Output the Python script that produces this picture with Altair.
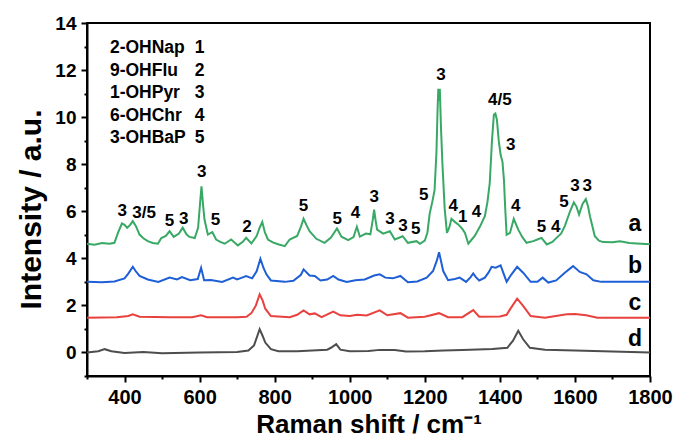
import altair as alt
import pandas as pd

# ---- data ----
series_names = ["a", "b", "c", "d"]
series_colors = ["#38A865", "#1E5FD6", "#E8413E", "#4D4D4D"]

a_pts = [(300,4.62),(320,4.58),(340,4.65),(360,4.62),(373,4.66),(383,5.1),(393,5.48),(400,5.42),(407,5.3),
         (415,5.42),(422,5.58),(430,5.38),(440,5.01),(450,4.85),(462,4.73),(475,4.65),(489,4.62),(498,4.86),
         (510,4.95),(520,5.15),(531,4.91),(545,5.05),(555,5.3),(565,5.02),(573,4.91),(587,4.86),(596,5.3),
         (601,6.3),(605,7.06),(609,6.3),(613,5.65),(622,5.01),(634,5.11),(644,4.8),(655,4.7),(667,4.62),
         (684,4.8),(702,4.55),(715,4.7),(724,4.87),(738,4.63),(752,4.95),(760,5.3),(767,5.54),(774,5.1),
         (782,4.8),(795,4.68),(809,4.6),(827,4.52),(840,4.8),(860,4.95),(870,5.35),(877,5.68),(885,5.4),
         (893,5.15),(911,4.83),(933,4.66),(950,4.88),(966,5.27),(978,4.92),(996,4.77),(1010,4.9),(1019,5.34),
         (1027,4.92),(1043,5.05),(1055,5.02),(1061,5.6),(1065,6.07),(1069,5.6),(1073,5.22),(1089,5.05),
         (1107,5.15),(1120,4.8),(1141,4.94),(1155,4.66),(1178,4.73),(1187,4.62),(1200,4.75),(1207,5.1),
         (1213,5.9),(1220,6.4),(1226,6.9),(1231,8.5),(1234,10.3),(1236,11.2),(1238,10.7),(1240,11.2),
         (1243,9.6),(1247,8.0),(1253,6.1),(1259,5.08),(1265,5.3),(1271,5.68),(1280,5.55),(1289,5.44),
         (1300,5.25),(1307,5.08),(1316,4.62),(1325,4.8),(1333,4.95),(1347,5.35),(1360,5.79),(1367,6.4),
         (1373,7.2),(1379,9.0),(1384,10.1),(1388,10.15),(1392,9.9),(1397,9.0),(1402,8.4),(1407,8.1),
         (1411,7.3),(1414,6.2),(1418,5.0),(1427,5.08),(1437,5.68),(1449,5.22),(1460,4.9),(1471,4.66),
         (1489,4.73),(1500,4.8),(1511,4.87),(1525,4.59),(1540,4.7),(1551,4.87),(1563,5.05),(1573,5.37),
         (1587,6.0),(1597,6.38),(1604,6.2),(1611,5.86),(1620,6.3),(1629,6.52),(1635,6.2),(1640,5.79),
         (1653,4.94),(1664,4.75),(1675,4.69),(1700,4.68),(1720,4.73),(1745,4.65),(1765,4.63),(1800,4.6)]

b_pts = [(300,3.0),(340,2.98),(373,3.02),(400,3.15),(410,3.35),(422,3.64),(430,3.45),(440,3.25),(462,3.1),
         (490,3.0),(520,3.18),(540,3.1),(553,3.2),(575,3.07),(595,3.12),(604,3.6),(612,3.07),(630,3.08),
         (660,3.0),(689,3.18),(700,3.1),(713,3.18),(724,3.25),(740,3.15),(752,3.45),(762,3.98),(770,3.6),
         (778,3.32),(790,3.06),(827,3.0),(850,3.05),(870,3.3),(877,3.53),(893,3.27),(907,3.25),(922,3.06),
         (940,3.1),(956,3.25),(970,3.1),(992,3.0),(1015,3.07),(1040,3.1),(1065,3.27),(1080,3.32),(1095,3.18),
         (1115,3.15),(1135,3.25),(1155,2.98),(1180,3.02),(1205,3.18),(1222,3.46),(1232,3.9),(1238,4.26),
         (1243,3.9),(1249,3.46),(1262,3.07),(1280,3.12),(1293,3.18),(1310,3.0),(1322,3.2),(1329,3.36),
         (1336,3.2),(1345,3.06),(1360,3.18),(1370,3.4),(1378,3.64),(1389,3.6),(1402,3.7),(1409,3.39),
         (1418,3.0),(1430,3.3),(1446,3.64),(1462,3.39),(1482,3.0),(1500,3.0),(1514,3.18),(1529,2.97),
         (1550,3.06),(1573,3.39),(1595,3.67),(1613,3.42),(1631,3.32),(1649,3.07),(1670,3.0),(1720,3.0),
         (1800,3.0)]

c_pts = [(300,1.48),(380,1.5),(410,1.55),(422,1.62),(440,1.52),(520,1.5),(580,1.5),(604,1.58),(620,1.5),
         (700,1.5),(725,1.52),(738,1.67),(750,2.0),(760,2.47),(768,2.2),(775,1.86),(790,1.55),(840,1.5),
         (860,1.6),(877,1.79),(893,1.62),(907,1.66),(925,1.5),(956,1.74),(975,1.58),(1000,1.55),(1020,1.6),
         (1045,1.57),(1080,1.79),(1100,1.58),(1135,1.67),(1155,1.48),(1200,1.52),(1238,1.67),(1262,1.5),
         (1300,1.5),(1329,1.8),(1345,1.52),(1400,1.53),(1418,1.6),(1427,1.83),(1446,2.29),(1462,1.98),
         (1482,1.55),(1520,1.48),(1578,1.62),(1600,1.63),(1630,1.58),(1660,1.48),(1800,1.48)]

d_pts = [(300,0.0),(330,0.05),(347,0.14),(365,0.05),(400,-0.02),(450,0.02),(500,-0.03),(600,0.0),(700,0.02),
         (730,0.08),(745,0.3),(760,0.99),(768,0.7),(775,0.42),(790,0.14),(810,0.05),(860,0.05),(900,0.08),
         (940,0.12),(950,0.2),(964,0.35),(975,0.12),(1000,0.05),(1050,0.06),(1080,0.11),(1120,0.1),
         (1150,0.04),(1200,0.05),(1250,0.08),(1300,0.1),(1380,0.15),(1420,0.2),(1435,0.5),(1449,0.92),
         (1462,0.56),(1480,0.2),(1520,0.12),(1600,0.08),(1700,0.04),(1800,0.0)]

peak_labels = [(394,6.0,"3"),(452,5.93,"3/5"),(520,5.58,"5"),(558,5.68,"3"),(606,7.65,"3"),(642,5.62,"5"),
               (726,5.34,"2"),(877,6.21,"5"),(967,5.68,"5"),(1015,5.93,"4"),(1065,6.6,"3"),(1107,5.68,"3"),
               (1142,5.37,"3"),(1176,5.25,"5"),(1197,6.71,"5"),(1243,11.79,"3"),(1276,6.21,"4"),
               (1301,5.74,"1"),(1338,5.96,"4"),(1400,10.73,"4/5"),(1429,8.83,"3"),(1442,6.21,"4"),
               (1511,5.32,"5"),(1549,5.32,"4"),(1571,6.38,"5"),(1600,7.06,"3"),(1633,7.09,"3")]

series_label_x = 1760
series_label_y = [5.44, 3.67, 2.12, 0.56]

legend_names = ["2-OHNap", "9-OHFlu", "1-OHPyr", "6-OHChr", "3-OHBaP"]
legend_nums = ["1", "2", "3", "4", "5"]
legend_y = [12.94, 11.98, 11.03, 10.05, 9.12]
legend_name_x = 361
legend_num_x = 587

x_ticks = list(range(300, 1801, 100))
y_ticks = list(range(-1, 15))

# ---- tables ----
rows = []
for name, pts in zip(series_names, [a_pts, b_pts, c_pts, d_pts]):
    for x, y in pts:
        rows.append({"shift": x, "intensity": y, "series": name})
df = pd.DataFrame(rows)
peaks_df = pd.DataFrame(peak_labels, columns=["shift", "intensity", "t"])
series_df = pd.DataFrame({"shift": [series_label_x] * 4, "intensity": series_label_y, "t": series_names})
leg_names_df = pd.DataFrame({"shift": [legend_name_x] * 5, "intensity": legend_y, "t": legend_names})
leg_nums_df = pd.DataFrame({"shift": [legend_num_x] * 5, "intensity": legend_y, "t": legend_nums})

FONT = "Liberation Sans"
xscale = alt.Scale(domain=[300, 1800], nice=False, zero=False)
yscale = alt.Scale(domain=[-1, 14], nice=False, zero=False)

xaxis = alt.Axis(
    values=x_ticks, format="d",
    labelExpr="datum.value % 200 === 0 ? datum.label : ''",
    tickSize={"condition": {"test": "datum.value % 200 === 0", "value": 6}, "value": 3},
    title="Raman shift / cm⁻¹",
    titleFontSize=26, labelFontSize=20, labelPadding=5, titlePadding=4,
    labelFlush=False, labelOverlap=False, grid=False,
)
yaxis = alt.Axis(
    values=y_ticks, format="d",
    labelExpr="datum.value % 2 === 0 ? datum.label : ''",
    tickSize={"condition": {"test": "datum.value % 2 === 0", "value": 6}, "value": 3},
    title="Intensity / a.u.", titleY=186,
    titleFontSize=30, labelFontSize=19, labelPadding=5, titlePadding=8,
    labelFlush=False, labelOverlap=False, grid=False,
)

X = alt.X("shift:Q", scale=xscale, axis=xaxis)
Y = alt.Y("intensity:Q", scale=yscale, axis=yaxis)

lines = alt.Chart(df).mark_line(strokeWidth=2).encode(
    x=X, y=Y,
    color=alt.Color("series:N", scale=alt.Scale(domain=series_names, range=series_colors), legend=None),
    detail="series:N",
)


def text_layer(data, size, align):
    return alt.Chart(data).mark_text(font=FONT, fontWeight="bold", fontSize=size, color="black",
                                     align=align, baseline="middle").encode(x=X, y=Y, text="t:N")


peaks = text_layer(peaks_df, 17, "center")
slabels = text_layer(series_df, 23, "center")
leg_names = text_layer(leg_names_df, 17.5, "left")
leg_nums = text_layer(leg_nums_df, 17.5, "left")

chart = alt.layer(lines, peaks, slabels, leg_names, leg_nums).properties(
    width=563, height=353,
    padding={"left": 87, "top": 23, "right": 30, "bottom": 67},
    autosize=alt.AutoSizeParams(type="none"),
    background="white",
).configure_view(
    stroke="black", strokeWidth=2,
).configure_axis(
    domainColor="black", domainWidth=2, tickColor="black", tickWidth=2,
    labelFont=FONT, labelFontWeight="bold", labelColor="black",
    titleFont=FONT, titleFontWeight="bold", titleColor="black",
)

chart.save("out.html", embed_options={"renderer": "svg", "actions": False})
